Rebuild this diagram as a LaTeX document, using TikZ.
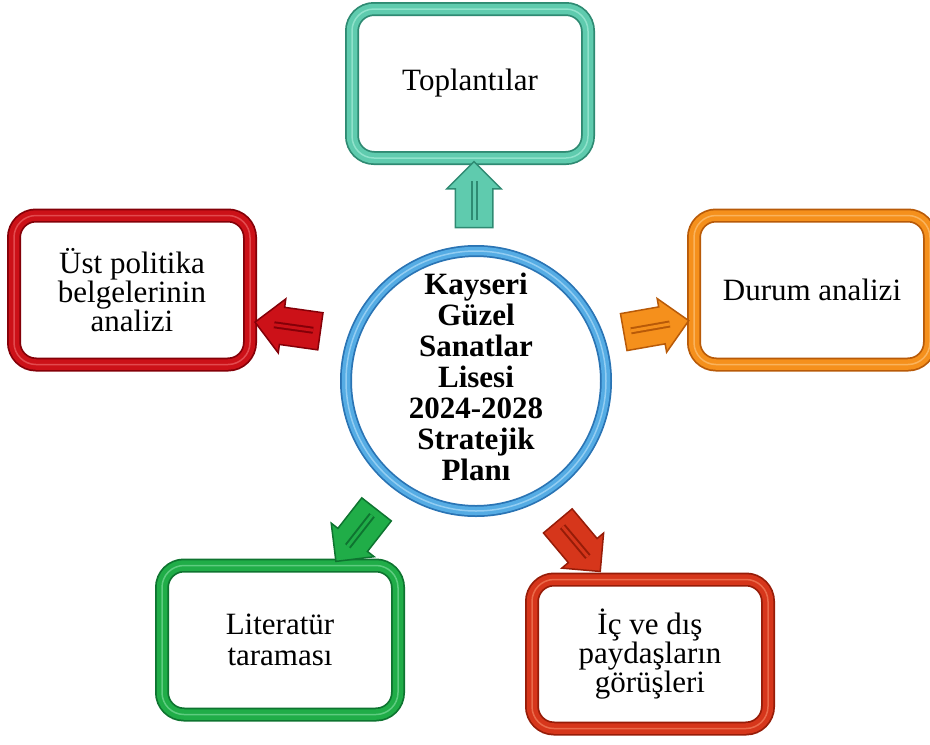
\documentclass[tikz,border=0pt]{standalone}
\usepackage{fontspec}
\setmainfont{Liberation Serif}
\usetikzlibrary{shapes.arrows,calc}
\definecolor{tealC}{HTML}{5FCBAE}
\definecolor{tealCdark}{HTML}{2E8A72}
\definecolor{tealClight}{HTML}{8FE2CB}
\definecolor{redC}{HTML}{CC1118}
\definecolor{redCdark}{HTML}{840008}
\definecolor{redClight}{HTML}{E24A4E}
\definecolor{orgC}{HTML}{F5901C}
\definecolor{orgCdark}{HTML}{B85A08}
\definecolor{orgClight}{HTML}{FAB35C}
\definecolor{grnC}{HTML}{20AD48}
\definecolor{grnCdark}{HTML}{0E7430}
\definecolor{grnClight}{HTML}{5ECC80}
\definecolor{roC}{HTML}{D6361B}
\definecolor{roCdark}{HTML}{961C08}
\definecolor{roClight}{HTML}{EA6A4A}
\definecolor{bluC}{HTML}{55ACE4}
\definecolor{bluCdark}{HTML}{2A74B4}
\definecolor{bluClight}{HTML}{92CDF2}
\newcommand{\boxfont}{\fontsize{31}{28}\selectfont}
\newcommand{\twofont}{\fontsize{31}{30.5}\selectfont}
\newcommand{\ctrfont}{\bfseries\fontsize{31}{31}\selectfont}
\tikzset{
  cbox/.style={rectangle, rounded corners=22pt, minimum width=236pt,
    minimum height=149pt, inner sep=0pt, align=center, font=\boxfont,
    fill=white, draw=#1dark, line width=14pt,
    postaction={draw=#1, line width=10.5pt},
    postaction={draw=#1light, line width=1.5pt}},
  barrow/.style={single arrow, single arrow head extend=8.5pt,
    single arrow tip angle=90, minimum height=66pt,
    inner xsep=0pt, inner ysep=18pt, fill=#1, draw=#1dark, line width=1.5pt},
  slot/.style={line width=7pt, draw=#1dark, line cap=butt,
    postaction={draw=#1, line width=3pt}}
}
\begin{document}
\begin{tikzpicture}[x=1pt,y=-1pt]
\useasboundingbox (0,0) rectangle (930,745);
\clip (0,0) rectangle (930,745);
% boxes
\node[cbox=tealC] (top) at (470,83.5) {Toplantılar};
\node[cbox=redC] (left) at (132,290) {Üst politika\\belgelerinin\\analizi};
\node[cbox=orgC] (right) at (812,290) {Durum analizi};
\node[cbox=grnC, font=\twofont] (bl) at (280,640) {Literatür\\taraması};
\node[cbox=roC] (br) at (650,654) {İç ve dış\\paydaşların\\görüşleri};
% centre circle
\node[circle, minimum size=260pt, inner sep=0pt, fill=white,
  draw=bluCdark, line width=12pt,
  postaction={draw=bluC, line width=8.5pt},
  postaction={draw=bluClight, line width=1.5pt}] (c) at (476,381) {};
\node[align=center, font=\ctrfont] (ctext) at (476,377)
  {Kayseri\\Güzel\\Sanatlar\\Lisesi\\2024-2028\\Stratejik\\Planı};
% block arrows
\node[barrow=tealC, rotate=90] (aT) at (474,204) {};
\node[barrow=redC, rotate=172] (aL) at (297,328) {};
\node[barrow=orgC, rotate=10] (aR) at (647,328) {};
\node[barrow=grnC, rotate=232] (aBL) at (362,528) {};
\node[barrow=roC, rotate=310] (aBR) at (573,539) {};
\foreach \a/\col in {aT/tealC, aL/redC, aR/orgC, aBL/grnC, aBR/roC}{
  \draw[slot=\col] ($(\a.tail)!0.12!(\a.tip)$) -- ($(\a.tail)!0.7!(\a.tip)$);
}
\end{tikzpicture}
\end{document}
